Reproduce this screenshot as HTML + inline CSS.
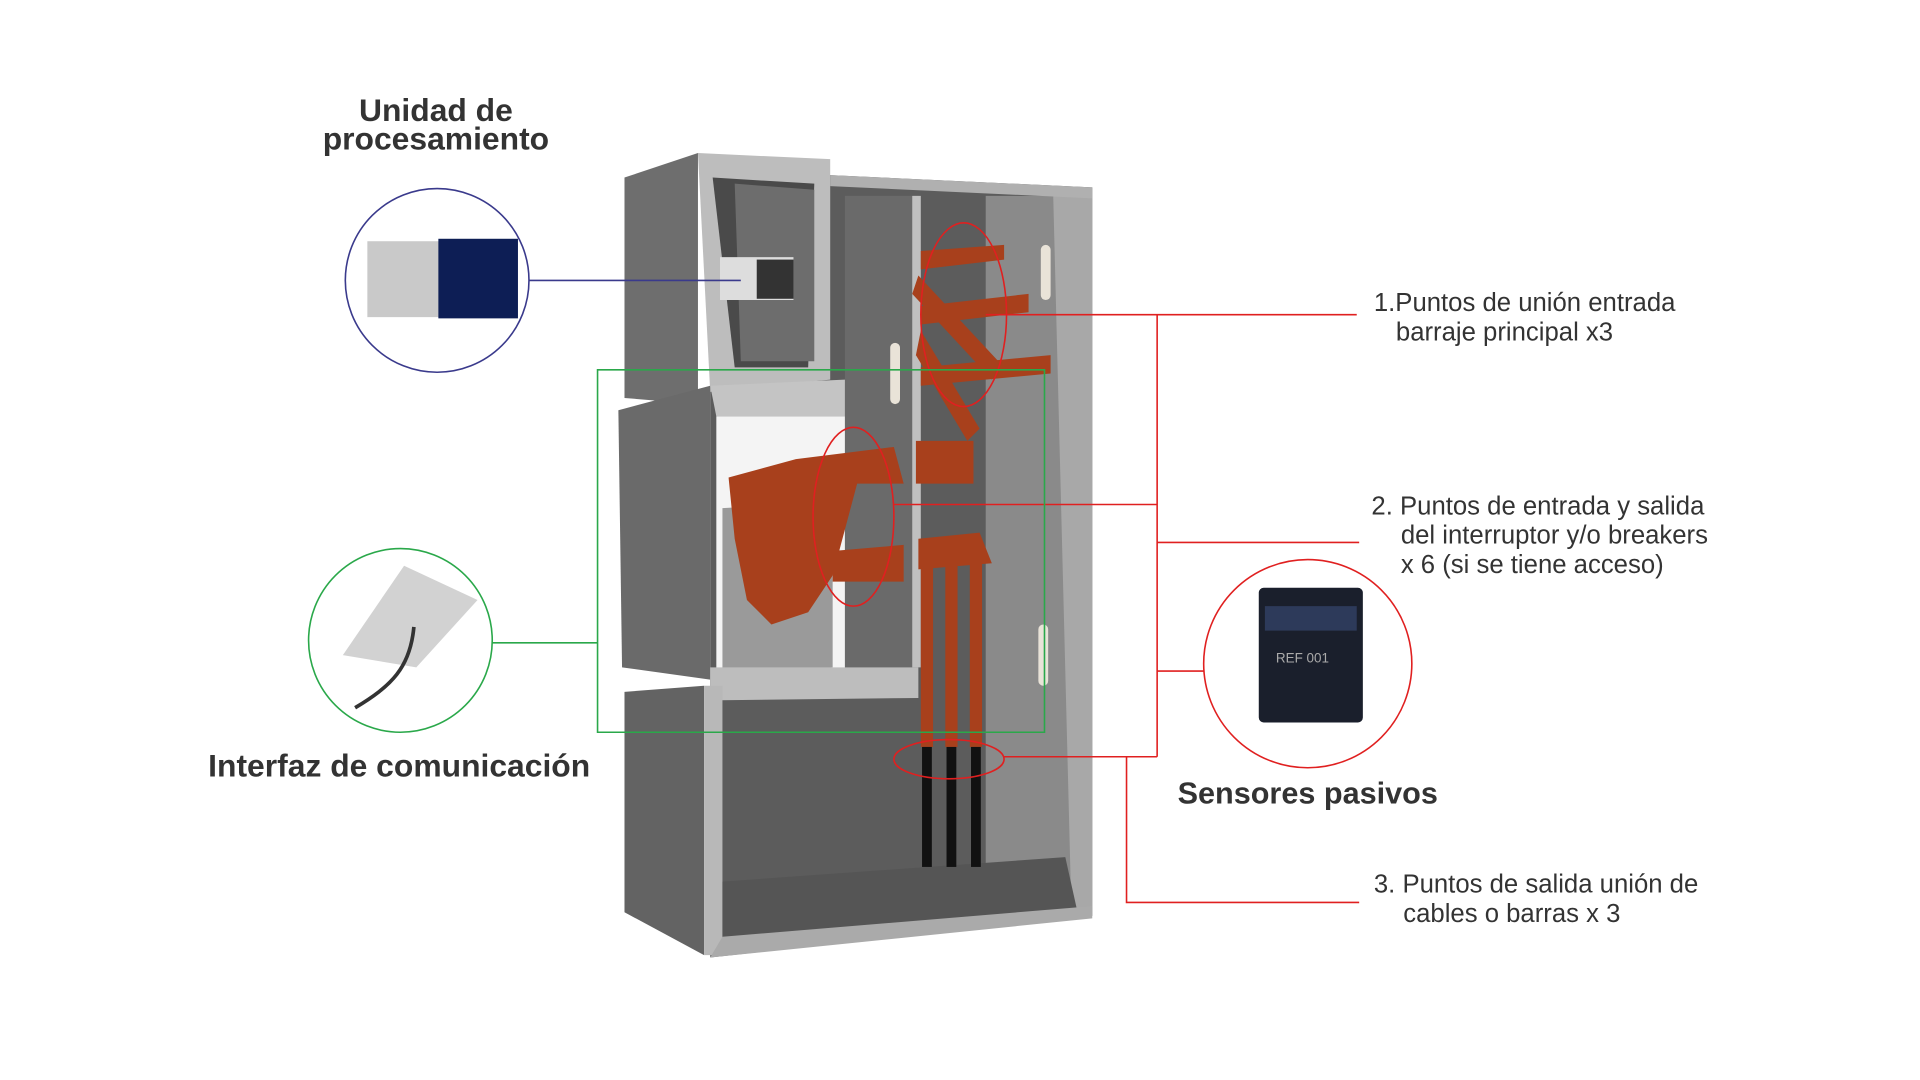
<!DOCTYPE html>
<html><head><meta charset="utf-8"><style>html,body{margin:0;padding:0;background:#fff;overflow:hidden}svg{display:block}</style></head>
<body>
<svg width="1920" height="1080" viewBox="0 0 1568 882" preserveAspectRatio="none" xmlns="http://www.w3.org/2000/svg" font-family="Liberation Sans, sans-serif">
<rect width="1568" height="882" fill="#fff"/>
<polygon points="678,143 892,153 892,748 580,782 580,140" fill="#5c5c5c"/>
<polygon points="805,160 880,160 880,745 805,720" fill="#8a8a8a"/>
<polygon points="860,155 892,153 892,748 875,745" fill="#a8a8a8"/>
<polygon points="678,143 892,153 892,162 678,152" fill="#b0b0b0"/>
<polygon points="690,160 750,160 750,545 690,545" fill="#6a6a6a"/>
<polygon points="745,160 752,160 752,545 745,545" fill="#c0c0c0"/>
<polygon points="510,145 570,125 570,330 510,325" fill="#6e6e6e"/>
<polygon points="570,125 678,130 678,310 580,320" fill="#bdbdbd"/>
<polygon points="582,145 665,150 660,300 600,300" fill="#4a4a4a"/>
<polygon points="600,150 665,155 665,295 605,295" fill="#6d6d6d"/>
<polygon points="505,335 580,315 580,555 508,545" fill="#6a6a6a"/>
<polygon points="580,315 690,310 690,340 585,340" fill="#c4c4c4"/>
<polygon points="585,340 690,340 690,560 585,570" fill="#f4f4f4"/>
<polygon points="590,415 680,410 680,545 590,550" fill="#9a9a9a"/>
<polygon points="580,545 750,545 750,570 580,572" fill="#bdbdbd"/>
<polygon points="510,565 575,560 575,780 510,745" fill="#636363"/>
<polygon points="575,560 590,560 590,780 575,780" fill="#b8b8b8"/>
<polygon points="590,720 870,700 880,745 590,770" fill="#555"/>
<polygon points="590,765 892,740 892,750 580,782" fill="#aaa"/>
<g fill="#a8401c">
<polygon points="752,205 820,200 820,212 752,220"/>
<polygon points="752,250 840,240 840,255 752,265"/>
<polygon points="752,300 858,290 858,305 752,315"/>
<polygon points="750,225 820,300 810,310 745,240"/>
<polygon points="752,270 800,350 790,360 748,290"/>
<polygon points="748,360 795,360 795,395 748,395"/>
<polygon points="595,390 650,375 730,365 738,395 700,395 680,470 660,500 630,510 610,490 600,440"/>
<polygon points="680,450 738,445 738,475 680,475"/>
<polygon points="750,440 800,435 810,460 750,465"/>
<rect x="752" y="460" width="10" height="150"/>
<rect x="772" y="460" width="10" height="150"/>
<rect x="792" y="460" width="10" height="150"/>
</g>
<g fill="#111"><rect x="753" y="610" width="8" height="98"/><rect x="773" y="610" width="8" height="98"/><rect x="793" y="610" width="8" height="98"/></g>
<g fill="#e9e3d8"><rect x="850" y="200" width="8" height="45" rx="4"/><rect x="727" y="280" width="8" height="50" rx="4"/><rect x="848" y="510" width="8" height="50" rx="4"/></g>
<rect x="588" y="210" width="60" height="35" fill="#ddd"/>
<rect x="618" y="212" width="30" height="32" fill="#333"/>
<g fill="none" stroke="#e02020" stroke-width="1.3">
<ellipse cx="787" cy="257" rx="35" ry="75"/>
<ellipse cx="697" cy="422" rx="33" ry="73"/>
<ellipse cx="775" cy="620" rx="45" ry="16"/>
<circle cx="1068" cy="542" r="85"/>
</g>
<g fill="none" stroke="#e02020" stroke-width="1.3">
<polyline points="805,257 1108,257"/>
<polyline points="730,412 945,412"/>
<polyline points="945,257 945,618"/>
<polyline points="945,443 1110,443"/>
<polyline points="945,548 983,548"/>
<polyline points="820,618 945,618"/>
<polyline points="920,618 920,737 1110,737"/>
</g>
<circle cx="357" cy="229" r="75" fill="none" stroke="#3a3a8c" stroke-width="1.3"/>
<line x1="432" y1="229" x2="605" y2="229" stroke="#3a3a8c" stroke-width="1.3"/>
<rect x="300" y="197" width="60" height="62" fill="#c9c9c9"/>
<rect x="358" y="195" width="65" height="65" fill="#0d1e55"/>
<circle cx="327" cy="523" r="75" fill="none" stroke="#2aa84a" stroke-width="1.3"/>
<polyline points="402,525 488,525 488,598 853,598 853,302 488,302 488,525" fill="none" stroke="#2aa84a" stroke-width="1.3"/>
<polygon points="280,535 330,462 390,490 340,545" fill="#d2d2d2"/>
<path d="M338,512 C335,545 320,560 290,578" stroke="#333" stroke-width="3" fill="none"/>
<rect x="1028" y="480" width="85" height="110" rx="4" fill="#1a1f2c"/>
<rect x="1033" y="495" width="75" height="20" fill="#2d3a5a"/>
<text x="1042" y="541" font-size="11" fill="#aaa">REF 001</text>
<g fill="#333" font-weight="bold" text-anchor="middle">
<text x="356" y="99" font-size="26">Unidad de</text>
<text x="356" y="122" font-size="26">procesamiento</text>
<text x="326" y="634" font-size="26">Interfaz de comunicación</text>
<text x="1068" y="656" font-size="25">Sensores pasivos</text>
</g>
<g fill="#333" font-size="21">
<text x="1122" y="254">1.Puntos de unión entrada</text>
<text x="1140" y="278">barraje principal x3</text>
<text x="1120" y="420">2. Puntos de entrada y salida</text>
<text x="1144" y="444">del interruptor y/o breakers</text>
<text x="1144" y="468">x 6 (si se tiene acceso)</text>
<text x="1122" y="729">3. Puntos de salida unión de</text>
<text x="1146" y="753">cables o barras x 3</text>
</g>
</svg>
</body></html>
